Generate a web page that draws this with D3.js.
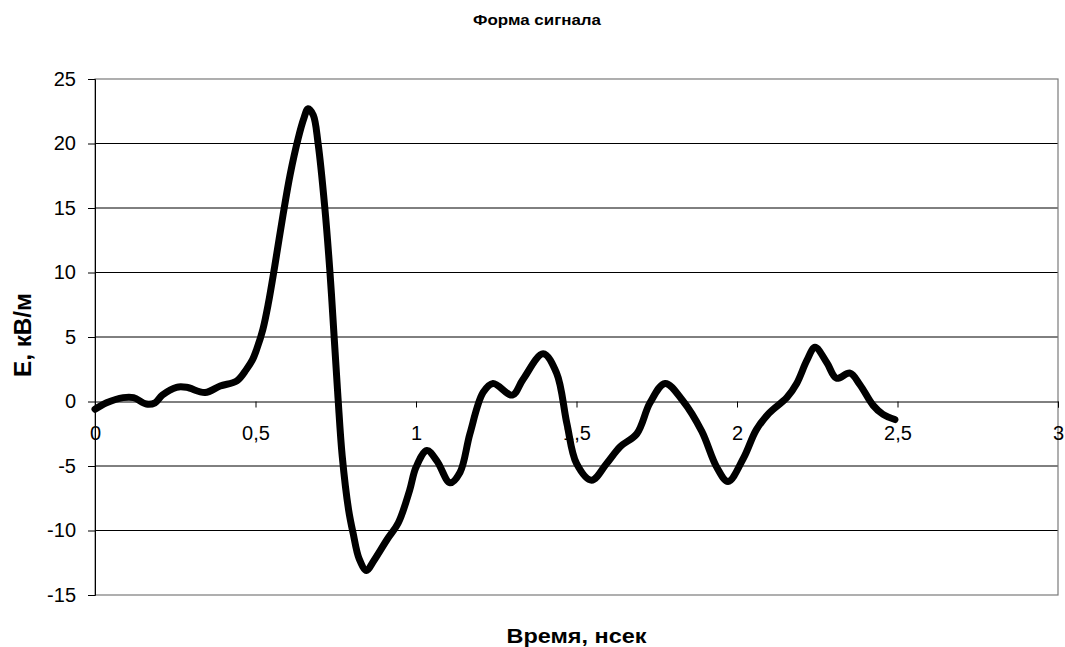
<!DOCTYPE html>
<html>
<head>
<meta charset="utf-8">
<script src="https://cdn.jsdelivr.net/npm/d3@7"></script>
<style>
  body { margin: 0; background: #fff; }
  text { font-family: "Liberation Sans", Arial, sans-serif; }
</style>
</head>
<body>
<div id="chart"></div>
<script>
// signal shape
var timeNs = [0, 0.036, 0.088, 0.12, 0.16, 0.187, 0.21, 0.254, 0.285, 0.343, 0.39, 0.442, 0.472, 0.49, 0.503,
  0.523, 0.54, 0.56, 0.586, 0.608, 0.633, 0.65, 0.664, 0.68, 0.695, 0.716, 0.732, 0.745, 0.757, 0.77,
  0.79, 0.804, 0.823, 0.846, 0.867, 0.91, 0.945, 0.98, 1.0, 1.034, 1.065, 1.106, 1.137, 1.168, 1.209, 1.24,
  1.30, 1.333, 1.396, 1.438, 1.47, 1.50, 1.547, 1.594, 1.636, 1.688, 1.729, 1.776, 1.83, 1.89, 1.937,
  1.972, 2.02, 2.06, 2.10, 2.155, 2.186, 2.218, 2.243, 2.28, 2.31, 2.352, 2.383, 2.424, 2.455, 2.492];
var fieldKv = [-0.6, -0.1, 0.3, 0.3, -0.2, -0.1, 0.5, 1.1, 1.1, 0.7, 1.2, 1.6, 2.5, 3.2, 4.0,
  5.6, 7.6, 10.5, 14.5, 17.6, 20.4, 21.9, 22.7, 22.2, 20, 15, 10, 5, 0.3, -4.2,
  -8.4, -10.2, -12.2, -13.1, -12.4, -10.7, -9.4, -6.9, -5.1, -3.8, -4.6, -6.3, -5.5, -2.5, 0.7, 1.4,
  0.5, 1.7, 3.7, 2.2, -1.7, -4.8, -6.1, -4.8, -3.5, -2.5, -0.1, 1.4, 0.1, -2.3, -5.1,
  -6.2, -4.4, -2.2, -0.9, 0.3, 1.4, 3.2, 4.2, 3.0, 1.8, 2.2, 1.3, -0.3, -1.0, -1.4];
var xTicks = [0, 0.5, 1, 1.5, 2, 2.5, 3];
var yTicks = [-15, -10, -5, 0, 5, 10, 15, 20, 25];

var svgWidth = 1065, svgHeight = 647;
var margin = {top: 79, right: 7, bottom: 52, left: 95};
var width = svgWidth - margin.left - margin.right;
var height = svgHeight - margin.top - margin.bottom;

var svg = d3.select("#chart").append("svg")
  .attr("width", svgWidth)
  .attr("height", svgHeight);

var chartGroup = svg.append("g")
  .attr("transform", `translate(${margin.left}, ${margin.top})`);

var x = d3.scaleLinear().domain([0, 3]).range([0, width]);
var y = d3.scaleLinear().domain([-15, 25]).range([height, 0]);

// gridlines
chartGroup.selectAll("line.grid")
  .data(yTicks.filter(d => d > -15 && d < 25 && d !== 0))
  .enter().append("line")
  .attr("class", "grid")
  .attr("x1", 0).attr("x2", width)
  .attr("y1", d => y(d)).attr("y2", d => y(d))
  .attr("stroke", "#000")
  .attr("stroke-width", 1);

// plot border
chartGroup.append("rect")
  .attr("x", 0).attr("y", 0)
  .attr("width", width).attr("height", height)
  .attr("fill", "none")
  .attr("stroke", "#7a7a7a")
  .attr("stroke-width", 1.2);

// y axis
var leftAxis = d3.axisLeft(y).tickValues(yTicks).tickSize(7).tickPadding(12)
  .tickFormat(d => String(d));
var gy = chartGroup.append("g").call(leftAxis);
gy.select(".domain").attr("stroke", "#000");
gy.selectAll("text").style("font-size", "20px").attr("fill", "#000");

// x axis at zero
var bottomAxis = d3.axisBottom(x).tickValues(xTicks).tickSize(6).tickPadding(18)
  .tickFormat(d => String(d).replace(".", ","));
var gx = chartGroup.append("g")
  .attr("transform", `translate(0, ${y(0)})`)
  .call(bottomAxis);
gx.select(".domain").attr("stroke", "#000");
gx.selectAll("text").style("font-size", "20px").attr("fill", "#000");

// signal
var pts = timeNs.map((t, i) => [t, fieldKv[i]]);
var line = d3.line()
  .x(d => x(d[0]))
  .y(d => y(d[1]))
  .curve(d3.curveCatmullRom.alpha(0.5));

chartGroup.append("path")
  .datum(pts)
  .attr("d", line)
  .attr("fill", "none")
  .attr("stroke", "#000")
  .attr("stroke-width", 7)
  .attr("stroke-linejoin", "round")
  .attr("stroke-linecap", "round");

// titles
svg.append("text")
  .attr("x", 537).attr("y", 25)
  .attr("text-anchor", "middle")
  .attr("textLength", 128).attr("lengthAdjust", "spacingAndGlyphs")
  .style("font-size", "15px").style("font-weight", "bold")
  .text("Форма сигнала");

svg.append("text")
  .attr("x", margin.left + width / 2).attr("y", 643)
  .attr("text-anchor", "middle")
  .attr("textLength", 140).attr("lengthAdjust", "spacingAndGlyphs")
  .style("font-size", "21px").style("font-weight", "bold")
  .text("Время, нсек");

svg.append("text")
  .attr("transform", `translate(31, 335) rotate(-90)`)
  .attr("text-anchor", "middle")
  .attr("textLength", 84).attr("lengthAdjust", "spacingAndGlyphs")
  .style("font-size", "23px").style("font-weight", "bold")
  .text("E, кВ/м");
</script>
</body>
</html>
